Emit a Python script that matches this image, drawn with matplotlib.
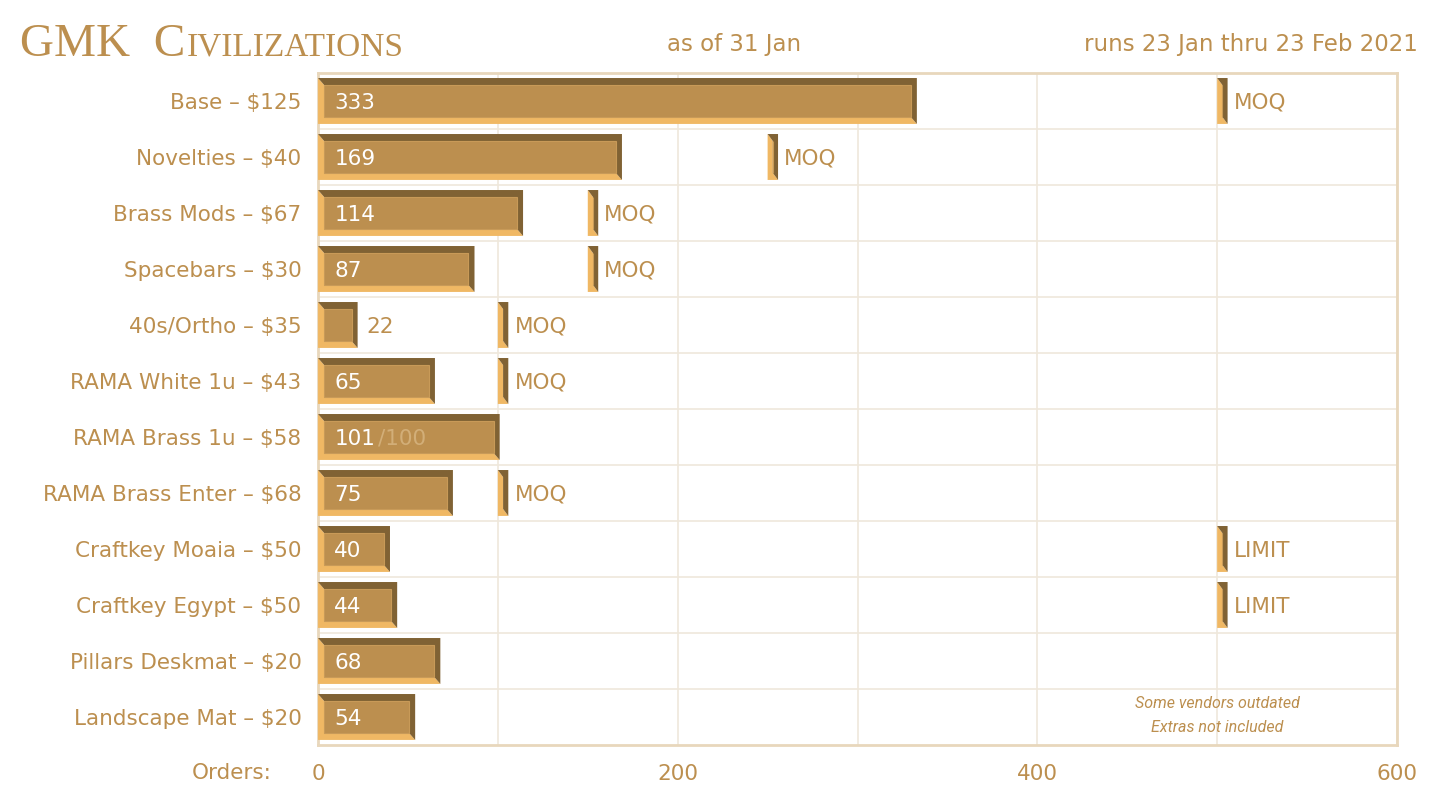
import matplotlib
matplotlib.use("Agg")
import matplotlib.pyplot as plt
from matplotlib.patches import Polygon, Rectangle

# data
categories = ["Base – $125", "Novelties – $40", "Brass Mods – $67", "Spacebars – $30",
              "40s/Ortho – $35", "RAMA White 1u – $43", "RAMA Brass 1u – $58",
              "RAMA Brass Enter – $68", "Craftkey Moaia – $50", "Craftkey Egypt – $50",
              "Pillars Deskmat – $20", "Landscape Mat – $20"]
orders = [333, 169, 114, 87, 22, 65, 101, 75, 40, 44, 68, 54]
thresholds = [500, 250, 150, 150, 100, 100, None, 100, 500, 500, None, None]
threshold_labels = ["MOQ", "MOQ", "MOQ", "MOQ", "MOQ", "MOQ", "", "MOQ", "LIMIT", "LIMIT", "", ""]
caps = {"RAMA Brass 1u – $58": 100}
ticks = [0, 200, 400, 600]

GOLD = "#BC8F4F"
DARK = "#806234"
LIGHT = "#F0B864"
GRID = "#EFE8DC"
FRAME = "#E8D7BC"
FONT = "DejaVu Sans"
FS = 15.5

fig = plt.figure(figsize=(14.49, 8.02), dpi=100)
ax = fig.add_axes([0.2195, 0.0711, 0.7446, 0.8379])

H = 0.41      # half bar height (rows)
DY = 0.125    # bevel depth (rows)
DX = 3.4      # bevel depth (orders)


def bevel_bar(x0, x1, c, dx=DX):
    yt, yb = c - H, c + H
    ax.add_patch(Polygon([(x0, yt), (x0 + dx, yt + DY), (x0 + dx, yb - DY),
                          (x1 - dx, yb - DY), (x1, yb), (x0, yb)],
                         closed=True, fc=LIGHT, ec="none", zorder=3))
    ax.add_patch(Polygon([(x0, yt), (x1, yt), (x1, yb), (x1 - dx, yb - DY),
                          (x1 - dx, yt + DY), (x0 + dx, yt + DY)],
                         closed=True, fc=DARK, ec="none", zorder=3))
    if x1 - x0 > 2 * dx:
        ax.add_patch(Rectangle((x0 + dx, yt + DY), x1 - x0 - 2 * dx, 2 * (H - DY),
                               fc=GOLD, ec="#C89A58", lw=0.8, zorder=4))


for i, (cat, v) in enumerate(zip(categories, orders)):
    bevel_bar(0, v, i)
    if v >= 40:
        t = ax.text(9, i, str(v), color="white", fontsize=FS, family=FONT,
                    va="center_baseline", ha="left", zorder=5)
    else:
        t = ax.text(v + 5, i, str(v), color=GOLD, fontsize=FS, family=FONT,
                    va="center_baseline", ha="left", zorder=5)
    if cat in caps:
        ax.annotate("/" + str(caps[cat]), xy=(1, 0.5), xycoords=t, xytext=(2, 0),
                    textcoords="offset points", va="center", ha="left",
                    color="#D2AE78", fontsize=FS, family=FONT, zorder=5)
    th = thresholds[i]
    if th is not None:
        bevel_bar(th, th + 5.8, i, dx=2.9)
        ax.text(th + 9.2, i, threshold_labels[i], color=GOLD, fontsize=FS,
                family=FONT, va="center_baseline", ha="left", zorder=5)

ax.set_xlim(0, 600)
ax.set_ylim(len(categories) - 0.5, -0.5)
ax.set_yticks(range(len(categories)))
ax.set_yticklabels(categories, family=FONT, fontsize=FS, color=GOLD, va="center_baseline")
ax.set_yticks([i + 0.5 for i in range(len(categories) - 1)], minor=True)
ax.set_xticks(ticks)
ax.set_xticklabels([str(t) for t in ticks], family=FONT, fontsize=FS, color=GOLD)
ax.set_xticks(range(100, 600, 100), minor=True)
ax.tick_params(axis="both", which="both", length=0)
ax.tick_params(axis="y", pad=12)
ax.tick_params(axis="x", pad=14)
ax.grid(True, which="minor", color=GRID, lw=1.2, zorder=0)
ax.grid(True, which="major", axis="x", color=GRID, lw=1.2, zorder=0)
ax.set_axisbelow(True)
for s in ax.spines.values():
    s.set_color(FRAME)
    s.set_linewidth(2)

fig.text(192 / 1449, 1 - 773 / 802, "Orders:", family=FONT, fontsize=FS,
         color=GOLD, va="center", ha="left")

ax.text(500, 10.98, "Some vendors outdated\nExtras not included", ha="center",
        va="center", color=GOLD, fontsize=11.5, style="italic",
        family="Roboto", linespacing=1.75, zorder=5)

# header
fig.text(734 / 1449, 1 - 45 / 802, "as of 31 Jan", family=FONT, fontsize=16.5,
         color=GOLD, ha="center", va="center")
fig.text(1418 / 1449, 1 - 45 / 802, "runs 23 Jan thru 23 Feb 2021", family=FONT,
         fontsize=16.5, color=GOLD, ha="right", va="center")

base_y = 1 - 56 / 802
t1 = fig.text(20 / 1449, base_y, "GMK  C", family="Liberation Serif", fontsize=34,
              color=GOLD, ha="left", va="baseline")
fig.canvas.draw()
bb = t1.get_window_extent()
fig.text(bb.x1 / fig.bbox.width + 0.001, base_y, "IVILIZATIONS", family="Liberation Serif",
         fontsize=24, color=GOLD, ha="left", va="baseline")

fig.savefig("out.png", dpi=100, facecolor="white")
